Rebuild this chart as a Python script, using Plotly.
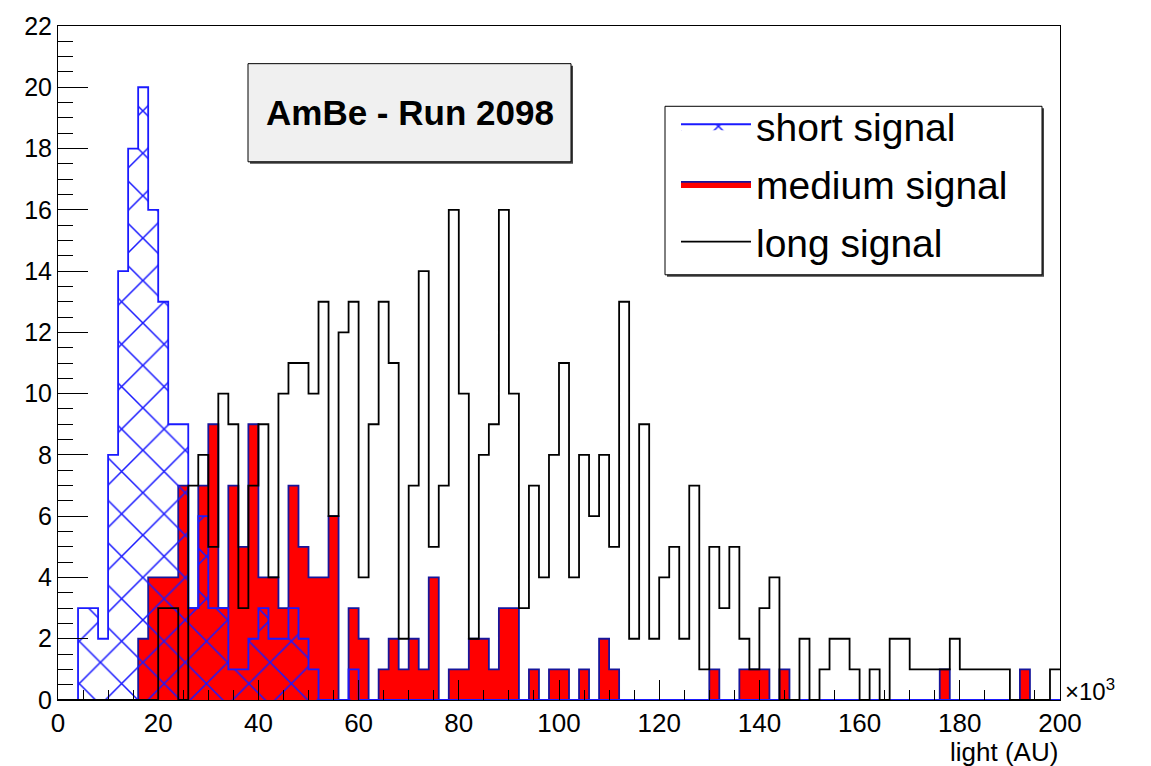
import plotly.graph_objects as go

# ---------------- data (100 bins of width 2, in units of 10^3 AU) ----------------
bin_width = 2
bin_edges = [bin_width * i for i in range(101)]

short_signal = [0, 0, 3, 3, 2, 8, 14, 18, 20, 16,
                13, 9, 9, 3, 6, 3, 3, 1, 1, 2,
                3, 2, 2, 3, 2, 1, 0, 0, 0, 1,
                0, 0, 0, 0, 0, 0, 0, 0, 0, 0,
                0, 0, 0, 0, 0, 0, 0, 0, 0, 0,
                0, 0, 0, 0, 0, 0, 0, 0, 0, 0,
                0, 0, 0, 0, 0, 0, 0, 0, 0, 0,
                0, 0, 0, 0, 0, 0, 0, 0, 0, 0,
                0, 0, 0, 0, 0, 0, 0, 0, 0, 0,
                0, 0, 0, 0, 0, 0, 0, 0, 0, 0]

medium_signal = [0, 0, 0, 0, 0, 0, 0, 0, 2, 4,
                 4, 4, 7, 3, 7, 9, 3, 7, 5, 9,
                 4, 4, 3, 7, 5, 4, 4, 6, 0, 3,
                 2, 0, 1, 2, 1, 2, 1, 4, 0, 1,
                 1, 2, 2, 1, 3, 3, 0, 1, 0, 1,
                 1, 0, 1, 0, 2, 1, 0, 0, 0, 0,
                 0, 0, 0, 0, 0, 1, 0, 0, 1, 1,
                 1, 0, 1, 0, 0, 0, 0, 0, 0, 0,
                 0, 0, 0, 0, 0, 0, 0, 0, 1, 0,
                 0, 0, 0, 0, 0, 0, 1, 0, 0, 0]

long_signal = [0, 0, 0, 0, 0, 0, 0, 0, 0, 0,
               3, 3, 0, 7, 8, 5, 10, 9, 3, 7,
               9, 4, 10, 11, 11, 10, 13, 6, 12, 13,
               4, 9, 13, 11, 2, 7, 14, 5, 7, 16,
               10, 2, 8, 9, 16, 10, 3, 7, 4, 8,
               11, 4, 8, 6, 8, 5, 13, 2, 9, 2,
               4, 5, 2, 7, 1, 5, 3, 5, 2, 1,
               3, 4, 0, 0, 2, 0, 1, 2, 2, 1,
               0, 1, 0, 2, 2, 1, 1, 1, 1, 2,
               1, 1, 1, 1, 1, 0, 0, 0, 0, 1]

x_tick_values = [0, 20, 40, 60, 80, 100, 120, 140, 160, 180, 200]
y_tick_values = [0, 2, 4, 6, 8, 10, 12, 14, 16, 18, 20, 22]


def step_y(vals):
    return list(vals) + [vals[-1]]


FONT = "Liberation Sans, Arial, Helvetica, sans-serif"

fig = go.Figure()

# medium signal (red filled, navy outline)
fig.add_trace(go.Scatter(
    x=bin_edges, y=step_y(medium_signal), mode="lines", line_shape="hv",
    line=dict(color="#16169c", width=1.8), fill="tozeroy", fillcolor="#ff0000",
    name="medium signal", legendrank=2, legendgroup="b", hoverinfo="skip"))

# short signal (blue cross hatch)
fig.add_trace(go.Scatter(
    x=bin_edges, y=step_y(short_signal), mode="lines", line_shape="hv",
    line=dict(color="#1a1aff", width=1.8), fill="tozeroy",
    fillcolor="rgba(0,0,0,0)",
    fillpattern=dict(shape="x", size=30, solidity=0.1, fgcolor="#1a1aff",
                     fgopacity=1, bgcolor="rgba(0,0,0,0)"),
    name="short signal", legendrank=1, legendgroup="a", hoverinfo="skip"))

# long signal (black outline)
fig.add_trace(go.Scatter(
    x=bin_edges, y=step_y(long_signal), mode="lines", line_shape="hv",
    line=dict(color="black", width=1.8),
    name="long signal", legendrank=3, legendgroup="c", hoverinfo="skip"))

W, H = 1151, 766
L, R, T, B = 58, 1060, 20, 700


def px(xp):
    return (xp - L) / (R - L)


def py(yp):
    return (B - yp) / (B - T)


shapes = []
# title box shadow + box
shapes.append(dict(type="rect", xref="paper", yref="paper",
                   x0=px(250), x1=px(573), y0=py(159), y1=py(60),
                   fillcolor="#444444", line=dict(width=0), layer="above"))
shapes.append(dict(type="rect", xref="paper", yref="paper",
                   x0=px(248), x1=px(571), y0=py(157), y1=py(58),
                   fillcolor="#f0f0f0", line=dict(color="black", width=1), layer="above"))
# legend box shadow + box
shapes.append(dict(type="rect", xref="paper", yref="paper",
                   x0=px(667), x1=px(1044), y0=py(273), y1=py(103),
                   fillcolor="#444444", line=dict(width=0), layer="above"))
shapes.append(dict(type="rect", xref="paper", yref="paper",
                   x0=px(665), x1=px(1042), y0=py(271), y1=py(101),
                   fillcolor="white", line=dict(color="black", width=1), layer="above"))

annotations = [
    dict(text="<b>AmBe - Run 2098</b>", xref="paper", yref="paper",
         x=(px(248) + px(571)) / 2, y=(py(58) + py(157)) / 2,
         xanchor="center", yanchor="middle", showarrow=False,
         font=dict(family=FONT, size=35, color="black")),
    dict(text="×10<sup>3</sup>", xref="paper", yref="paper",
         x=px(1063), y=py(690), xanchor="left", yanchor="middle", showarrow=False,
         font=dict(family=FONT, size=24, color="black")),
    dict(text="light (AU)", xref="paper", yref="paper",
         x=1.0, y=py(752), xanchor="right", yanchor="middle", showarrow=False,
         font=dict(family=FONT, size=26, color="black")),
]

fig.update_layout(
    width=W, height=H,
    margin=dict(l=L, r=W - R, t=T, b=H - B, pad=0),
    paper_bgcolor="white", plot_bgcolor="white",
    showlegend=True,
    legend=dict(x=px(676), y=py(89), xanchor="left", yanchor="top",
                bgcolor="rgba(0,0,0,0)", borderwidth=0,
                font=dict(family=FONT, size=39, color="black"),
                itemwidth=70, tracegroupgap=4, traceorder="grouped"),
    shapes=shapes, annotations=annotations,
    xaxis=dict(range=[0, 200], tickmode="array", tickvals=x_tick_values,
               ticktext=[str(v) for v in x_tick_values],
               ticks="inside", ticklen=20, tickwidth=1, tickcolor="black",
               minor=dict(dtick=5, ticks="inside", ticklen=10, tickcolor="black", tickwidth=1),
               showline=True, linecolor="black", linewidth=1, mirror=True,
               showgrid=False, zeroline=False,
               tickfont=dict(family=FONT, size=26, color="black")),
    yaxis=dict(range=[0, 22], tickmode="array", tickvals=y_tick_values,
               ticktext=[str(v) for v in y_tick_values],
               ticks="inside", ticklen=30, tickwidth=1, tickcolor="black",
               minor=dict(dtick=0.5, ticks="inside", ticklen=15, tickcolor="black", tickwidth=1),
               showline=True, linecolor="black", linewidth=1, mirror=True,
               showgrid=False, zeroline=False,
               tickfont=dict(family=FONT, size=25, color="black")),
)

fig.write_html("out.html")
